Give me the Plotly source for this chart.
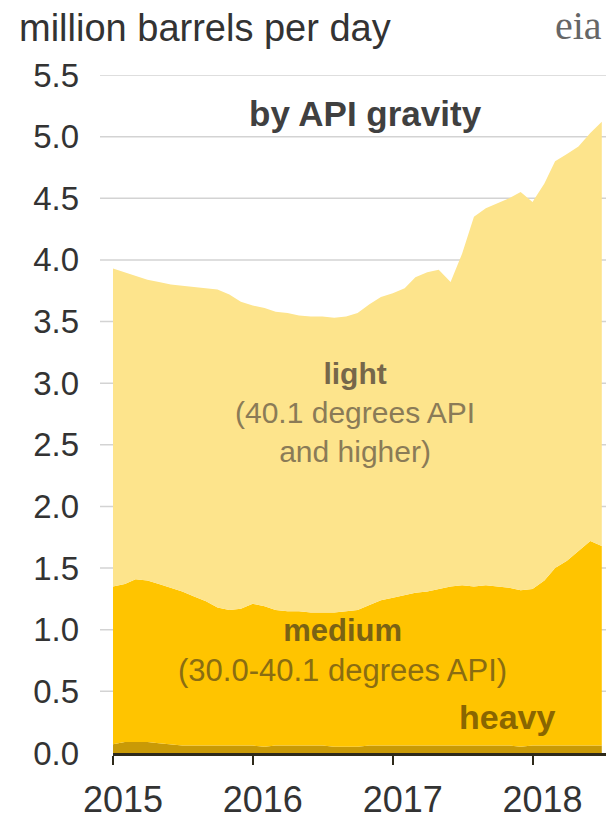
import plotly.graph_objects as go

# ---- data (million barrels per day), monthly Jan 2015 - Jul 2018 ----
months = [f"{y}-{m:02d}-01" for y in range(2015, 2019) for m in range(1, 13)][:43]

heavy = [0.07, 0.09, 0.09, 0.09, 0.08, 0.07, 0.06, 0.06, 0.06, 0.06, 0.06, 0.06,
         0.06, 0.05, 0.06, 0.06, 0.06, 0.06, 0.06, 0.05, 0.05, 0.05, 0.06, 0.06,
         0.06, 0.06, 0.06, 0.06, 0.06, 0.06, 0.06, 0.06, 0.06, 0.06, 0.06, 0.05,
         0.06, 0.06, 0.06, 0.06, 0.06, 0.06, 0.06]

medium = [1.28, 1.28, 1.32, 1.31, 1.29, 1.27, 1.25, 1.21, 1.17, 1.12, 1.10, 1.11,
          1.15, 1.14, 1.10, 1.09, 1.09, 1.08, 1.08, 1.09, 1.10, 1.11, 1.14, 1.18,
          1.20, 1.22, 1.24, 1.25, 1.27, 1.29, 1.30, 1.29, 1.30, 1.29, 1.28, 1.27,
          1.27, 1.34, 1.44, 1.50, 1.58, 1.66, 1.62]

light = [2.58, 2.53, 2.46, 2.44, 2.45, 2.46, 2.48, 2.51, 2.54, 2.58, 2.56, 2.49,
         2.42, 2.42, 2.42, 2.42, 2.40, 2.40, 2.40, 2.39, 2.39, 2.41, 2.44, 2.46,
         2.47, 2.49, 2.56, 2.59, 2.59, 2.47, 2.69, 3.00, 3.06, 3.11, 3.16, 3.23,
         3.14, 3.22, 3.30, 3.30, 3.28, 3.31, 3.44]

y_ticks = [0.0, 0.5, 1.0, 1.5, 2.0, 2.5, 3.0, 3.5, 4.0, 4.5, 5.0, 5.5]
x_tick_vals = ["2015-01-01", "2016-01-01", "2017-01-01", "2018-01-01"]
x_tick_text = ["2015", "2016", "2017", "2018"]

# ---- layout geometry ----
W, H = 606, 821
ML, MR, MT, MB = 113, 0, 75, 68
PW, PH = W - ML - MR, H - MT - MB

def px(x):
    return (x - ML) / PW

def py(y):
    return (H - MB - y) / PH

FONT = "Liberation Sans, Arial, sans-serif"

fig = go.Figure()
fig.add_trace(go.Scatter(x=months, y=heavy, name="heavy", stackgroup="one",
                         mode="lines", line=dict(width=0, color="#C99A06"),
                         fillcolor="#C99A06"))
fig.add_trace(go.Scatter(x=months, y=medium, name="medium", stackgroup="one",
                         mode="lines", line=dict(width=0, color="#FFC400"),
                         fillcolor="#FFC400"))
fig.add_trace(go.Scatter(x=months, y=light, name="light", stackgroup="one",
                         mode="lines", line=dict(width=0, color="#FDE48C"),
                         fillcolor="#FDE48C"))

# gridlines extending slightly left of the axis start
for v in y_ticks[1:]:
    fig.add_shape(type="line", xref="paper", yref="y", x0=px(100), x1=1,
                  y0=v, y1=v, line=dict(color="#D3D3D3", width=1.5),
                  layer="below")

annos = [
    ("million barrels per day", 17, 28, "left", 38, "#333333"),
    ("<b>by API gravity</b>", 365, 113, "center", 35, "#404040"),
    ("<b><span style='color:#76674A'>light</span></b><br>(40.1 degrees API<br>and higher)",
     355, 412, "center", 30, "#8A7B57"),
    ("<b><span style='color:#7A6214'>medium</span></b><br>(30.0-40.1 degrees API)",
     342, 650, "center", 31, "#8A6D12"),
    ("<b>heavy</b>", 507, 717, "center", 34, "#8A6600"),
]
for text, x, y, anchor, size, color in annos:
    fig.add_annotation(text=text, xref="paper", yref="paper", x=px(x), y=py(y),
                       xanchor=anchor, yanchor="middle", showarrow=False,
                       align="center",
                       font=dict(family=FONT, size=size, color=color))

fig.add_annotation(text="eia", xref="paper", yref="paper", x=px(553), y=py(1),
                   xanchor="left", yanchor="top", showarrow=False,
                   font=dict(family="Liberation Serif, serif", size=40,
                             color="#666666"))

fig.update_layout(
    width=W, height=H,
    margin=dict(l=ML, r=MR, t=MT, b=MB, pad=0),
    paper_bgcolor="white", plot_bgcolor="white",
    showlegend=False,
    font=dict(family=FONT, color="#333333"),
)
fig.update_xaxes(
    type="date", range=["2015-01-01", "2018-07-12"],
    tickvals=x_tick_vals, ticktext=x_tick_text,
    showgrid=False, zeroline=False,
    showline=True, linecolor="#2E2A1A", linewidth=2.5,
    ticks="outside", ticklen=9, tickwidth=2, tickcolor="#2E2A1A",
    tickfont=dict(family=FONT, size=36, color="#333333"),
    ticklabelshift=10, ticklabelstandoff=4,
)
fig.update_yaxes(
    range=[0, 5.5], tickvals=y_ticks, ticktext=[f"{v:.1f}" for v in y_ticks],
    showgrid=False, zeroline=False, showline=False,
    ticks="", tickfont=dict(family=FONT, size=33, color="#333333"),
    ticklabelstandoff=33,
)

fig.write_html("out.html",
               config={"displayModeBar": False, "staticPlot": True},
               post_script="document.body.style.margin='0';"
                           "document.body.style.overflow='hidden';")
